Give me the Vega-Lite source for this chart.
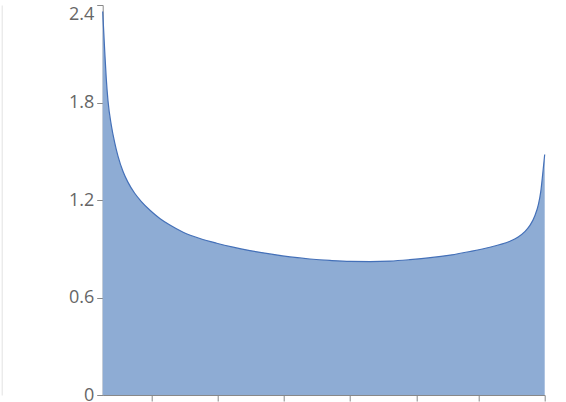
{
  "$schema": "https://vega.github.io/schema/vega-lite/v6.json",
  "autosize": "none",
  "width": 442,
  "height": 390,
  "padding": {"left": 102.7, "top": 5, "right": 21.3, "bottom": 7},
  "background": "white",
  "config": {
    "view": {"stroke": null},
    "axis": {
      "labelFont": "Open Sans",
      "labelFontSize": 18,
      "labelColor": "#666666",
      "domainColor": "#888888",
      "tickColor": "#888888",
      "tickSize": 6,
      "grid": false,
      "title": null
    }
  },
  "data": {
    "values": [
      {"x": 0.0, "d": 2.36},
      {"x": 0.0045, "d": 2.12},
      {"x": 0.008, "d": 1.95},
      {"x": 0.012, "d": 1.81},
      {"x": 0.0195, "d": 1.66},
      {"x": 0.027, "d": 1.555},
      {"x": 0.0346, "d": 1.47},
      {"x": 0.046, "d": 1.375},
      {"x": 0.057, "d": 1.31},
      {"x": 0.072, "d": 1.243},
      {"x": 0.087, "d": 1.192},
      {"x": 0.107, "d": 1.137},
      {"x": 0.13, "d": 1.085},
      {"x": 0.152, "d": 1.046},
      {"x": 0.182, "d": 1.002},
      {"x": 0.22, "d": 0.963},
      {"x": 0.258, "d": 0.934},
      {"x": 0.295, "d": 0.91},
      {"x": 0.333, "d": 0.889},
      {"x": 0.378, "d": 0.868},
      {"x": 0.424, "d": 0.85},
      {"x": 0.469, "d": 0.837},
      {"x": 0.514, "d": 0.828},
      {"x": 0.56, "d": 0.822},
      {"x": 0.605, "d": 0.821},
      {"x": 0.65, "d": 0.824},
      {"x": 0.695, "d": 0.833},
      {"x": 0.741, "d": 0.845},
      {"x": 0.786, "d": 0.861},
      {"x": 0.831, "d": 0.883},
      {"x": 0.876, "d": 0.909},
      {"x": 0.899, "d": 0.926},
      {"x": 0.92, "d": 0.945},
      {"x": 0.94, "d": 0.972},
      {"x": 0.955, "d": 1.005},
      {"x": 0.967, "d": 1.045},
      {"x": 0.978, "d": 1.105},
      {"x": 0.9855, "d": 1.17},
      {"x": 0.991, "d": 1.25},
      {"x": 0.9955, "d": 1.36},
      {"x": 1.0, "d": 1.48}
    ]
  },
  "layer": [
    {
      "mark": {
        "type": "area",
        "interpolate": "monotone",
        "color": "#8eacd4",
        "opacity": 1,
        "line": {"color": "#4470b8", "strokeWidth": 1.2}
      },
      "encoding": {
        "x": {
          "field": "x",
          "type": "quantitative",
          "scale": {"domain": [0, 1], "nice": false, "zero": false},
          "axis": {"values": [0.11, 0.2595, 0.4095, 0.5595, 0.71, 0.85, 1.0], "labels": false}
        },
        "y": {
          "field": "d",
          "type": "quantitative",
          "scale": {"domain": [0, 2.4], "nice": false},
          "axis": {
            "values": [0, 0.6, 1.2, 1.8, 2.4],
            "format": "~g",
            "labelPadding": 3,
            "labelBaseline": {"condition": {"test": "datum.value == 2.4", "value": "top"}, "value": "middle"}
          }
        }
      }
    },
    {
      "mark": {"type": "line", "opacity": 0},
      "encoding": {
        "x": {"field": "x", "type": "quantitative"},
        "y": {
          "field": "d",
          "type": "quantitative",
          "scale": {"domain": [0, 2.4], "nice": false},
          "axis": {
            "orient": "left",
            "offset": 101,
            "ticks": false,
            "labels": false,
            "domainColor": "#e2e2e2",
            "domainWidth": 1
          }
        }
      }
    }
  ],
  "resolve": {"axis": {"y": "independent"}}
}
